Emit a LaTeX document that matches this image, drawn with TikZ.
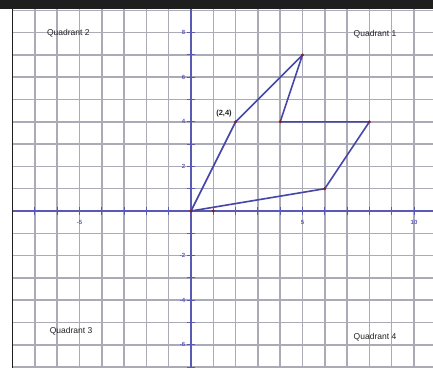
\documentclass[tikz,border=0pt]{standalone}
\usepackage{fontspec}
\setmainfont{Liberation Sans}
\definecolor{gridc}{HTML}{ABABB8}
\definecolor{axisc}{HTML}{5A5AB4}
\definecolor{polyc}{HTML}{4646A8}
\definecolor{dotc}{HTML}{8B1A1A}
\definecolor{bandc}{HTML}{1E1E1E}
\definecolor{textc}{HTML}{222222}
\tikzset{
  gridline/.style={draw=gridc, line width=1.5pt},
  axisline/.style={draw=axisc, line width=1.2pt},
  tickmark/.style={draw=axisc, line width=1pt},
  ticklabel/.style={text=axisc, font=\fontsize{6}{7}\selectfont\bfseries, inner sep=0pt},
  quadlabel/.style={text=textc, font=\fontsize{8.5}{10}\selectfont, inner sep=0pt},
  poly/.style={draw=polyc, line width=1.6pt, line join=round},
  vdot/.style={fill=dotc},
}
\begin{document}
\begin{tikzpicture}[x=22.3pt, y=22.3pt]
\useasboundingbox[fill=white] (-8.565,-7.040) rectangle (10.852,9.462);
% grid
\foreach \i in {-7,...,10} \draw[gridline] (\i,-7.04) -- (\i,9.06);
\foreach \j in {-7,...,9} \draw[gridline] (-8,\j) -- (10.852,\j);
% left border and top band
\draw[draw=bandc, line width=1.2pt] (-8,-7.04) -- (-8,9.06);
\fill[bandc] (-8.565,9.058) rectangle (10.852,9.462);
% axes
\draw[axisline] (-8,0) -- (10.852,0);
\draw[axisline] (0,-7.04) -- (0,9.058);
\foreach \i in {-7,...,10} \draw[tickmark] (\i,-0.18) -- (\i,0.18);
\foreach \j in {-7,...,8} \draw[tickmark] (-0.18,\j) -- (0.18,\j);
% tick labels
\foreach \j in {8,6,4,2,-2,-4,-6} \node[ticklabel, anchor=east] (yl\j) at (-0.25,\j) {\j};
\node[ticklabel] (xlm5) at (-5,-0.5) {-5};
\node[ticklabel] (xl5) at (5,-0.5) {5};
\node[ticklabel] (xl10) at (10,-0.5) {10};
% quadrant labels
\node[quadlabel] (q2) at (-5.5,7.98) {Quadrant 2};
\node[quadlabel] (q1) at (8.25,7.94) {Quadrant 1};
\node[quadlabel] (q3) at (-5.38,-5.38) {Quadrant 3};
\node[quadlabel] (q4) at (8.25,-5.65) {Quadrant 4};
% polygon
\coordinate (O) at (0,0);
\coordinate (A) at (2,4);
\coordinate (B) at (5,7);
\coordinate (C) at (4,4);
\coordinate (D) at (8,4);
\coordinate (E) at (6,1);
\coordinate (P) at (1,0);
\draw[poly] (O) -- (A) -- (B) -- (C) -- (D) -- (E) -- cycle;
\foreach \p in {O,A,B,C,D,E,P} \fill[vdot] (\p) circle (1.6pt);
\node[text=textc, font=\fontsize{7.5}{8}\selectfont\bfseries, inner sep=0pt] (lab) at (1.48,4.39) {(2,4)};
\end{tikzpicture}
\end{document}
